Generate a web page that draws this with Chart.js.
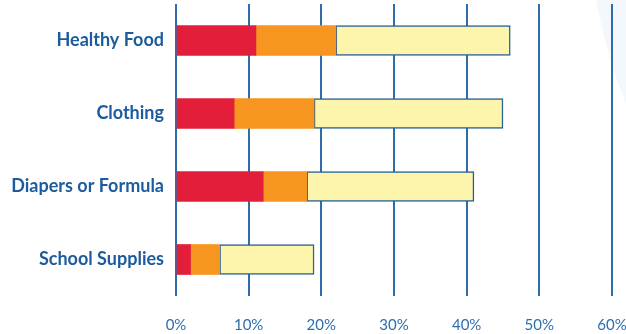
<!DOCTYPE html>
<html>
<head>
<meta charset="utf-8">
<script src="https://cdn.jsdelivr.net/npm/chart.js@4/dist/chart.umd.min.js"></script>
<style>
  html, body { margin: 0; padding: 0; background: #fff; overflow: hidden; }
  canvas { display: block; }
</style>
</head>
<body>
<canvas id="chart" width="626" height="334"></canvas>
<script>
const categories = ['Healthy Food', 'Clothing', 'Diapers or Formula', 'School Supplies'];
const redValues = [11, 8, 12, 2];
const orangeValues = [11, 11, 6, 4];
const yellowValues = [24, 26, 23, 13];
const tickValues = [0, 10, 20, 30, 40, 50, 60];

const blue = '#1c5c9e';
const gridBlue = '#2f6daa';

// faint circle in the background at the top right, like the original page
const backdrop = {
  id: 'backdrop',
  beforeDraw(chart) {
    const ctx = chart.ctx;
    ctx.save();
    ctx.fillStyle = '#f3f8fd';
    ctx.beginPath();
    ctx.arc(1143, -100, 556, 0, Math.PI * 2);
    ctx.fill();
    ctx.restore();
  }
};

new Chart(document.getElementById('chart'), {
  type: 'bar',
  data: {
    labels: categories,
    datasets: [
      { data: redValues, backgroundColor: '#e31e3a', borderWidth: 0, barThickness: 30 },
      { data: orangeValues, backgroundColor: '#f79521', borderWidth: 0, barThickness: 30 },
      { data: yellowValues, backgroundColor: '#fdf5ab', borderColor: '#275f97', borderWidth: 1.5, borderSkipped: false, barThickness: 30 }
    ]
  },
  options: {
    indexAxis: 'y',
    responsive: false,
    animation: false,
    layout: { padding: { top: 4, right: 14, left: 0, bottom: 0 } },
    plugins: { legend: { display: false }, tooltip: { enabled: false } },
    scales: {
      x: {
        stacked: true,
        min: 0,
        max: 60,
        afterBuildTicks: (axis) => { axis.ticks = tickValues.map(v => ({ value: v })); },
        afterFit: (s) => { s.paddingLeft = 0; s.paddingRight = 0; s.height = 38; },
        border: { display: false },
        grid: { color: gridBlue, lineWidth: 2, drawTicks: false },
        ticks: {
          padding: 20,
          color: '#2e6eae',
          font: { family: 'Lato', size: 15 },
          callback: (v) => v + '%'
        }
      },
      y: {
        stacked: true,
        afterFit: (s) => { s.paddingTop = 0; s.paddingBottom = 0; s.width = 176; },
        border: { display: false },
        grid: { display: false, drawTicks: false },
        ticks: {
          padding: 12,
          color: blue,
          font: { family: 'Lato', size: 18, weight: 'bold' }
        }
      }
    }
  },
  plugins: [backdrop]
});
</script>
</body>
</html>
